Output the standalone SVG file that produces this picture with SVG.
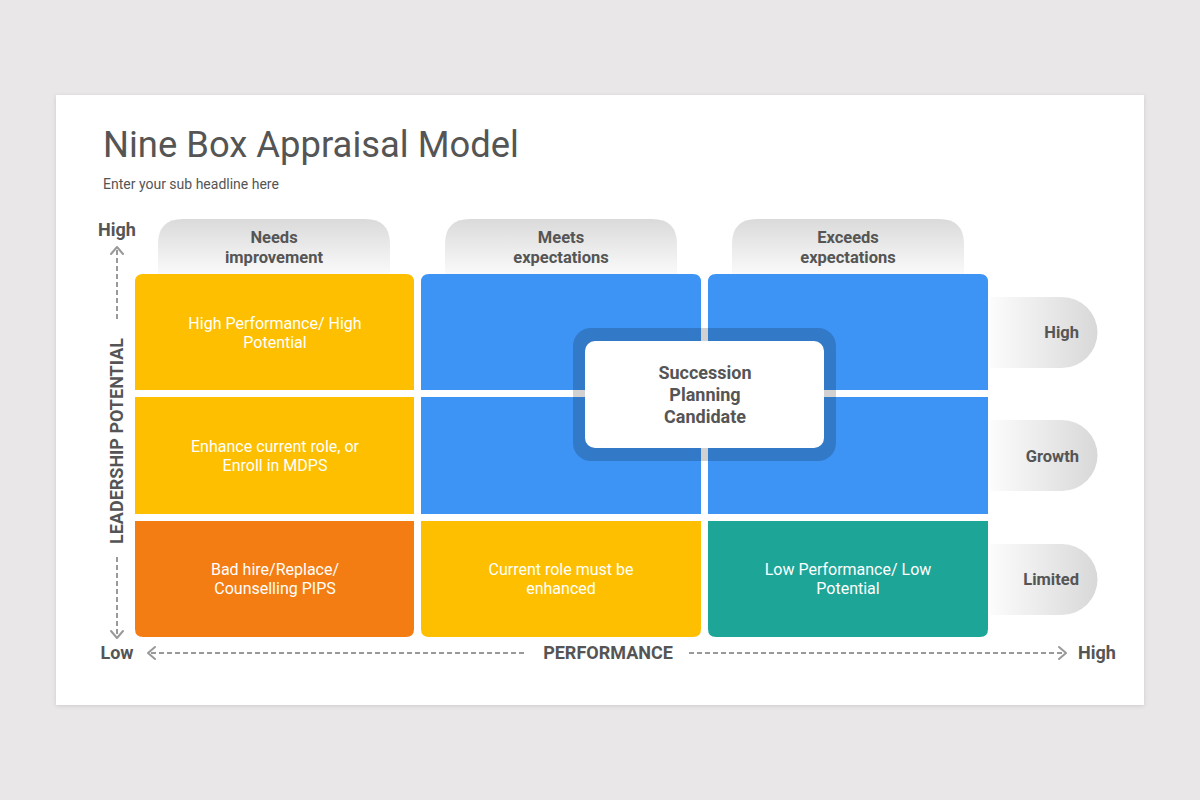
<svg xmlns="http://www.w3.org/2000/svg" width="1200" height="800" viewBox="0 0 1200 800">
<style>
.t{font-family:Roboto,"Liberation Sans",sans-serif;}
.tab{font-family:Roboto,"Liberation Sans",sans-serif;font-weight:bold;font-size:16.5px;fill:#555;}
.cell{font-family:Roboto,"Liberation Sans",sans-serif;font-size:16px;fill:#fff;text-anchor:middle;}
.ax{font-family:Roboto,"Liberation Sans",sans-serif;font-weight:bold;font-size:18px;fill:#555;text-anchor:middle;}
.dash{stroke:#999;stroke-width:2;stroke-dasharray:5 3;fill:none;}
.head{stroke:#999;stroke-width:2;fill:none;stroke-linecap:round;stroke-linejoin:round;}
</style>
<defs>
<linearGradient id="gTop" x1="0" y1="0" x2="0" y2="1"><stop offset="0" stop-color="#dadada"/><stop offset="1" stop-color="#fafafa"/></linearGradient>
<linearGradient id="gRight" x1="0" y1="0" x2="1" y2="0"><stop offset="0" stop-color="#fcfcfc"/><stop offset="1" stop-color="#d8d8d8"/></linearGradient>
<filter id="sh" x="-5%" y="-5%" width="110%" height="110%"><feDropShadow dx="0" dy="1" stdDeviation="2" flood-color="#000" flood-opacity="0.12"/></filter>
</defs>
<rect width="1200" height="800" fill="#e9e7e8"/>
<rect x="56" y="95" width="1088" height="610" fill="#fff" filter="url(#sh)"/>
<text class="t" x="103" y="157" font-size="36.4" fill="#555">Nine Box Appraisal Model</text>
<text class="t" x="103" y="189" font-size="14" fill="#555">Enter your sub headline here</text>

<g id="col-headers">
<g id="hdr-needs"><path d="M158,274 V244 Q158,219 183,219 H365 Q390,219 390,244 V274 Z" fill="url(#gTop)"/><text class="tab" x="274" y="243" text-anchor="middle">Needs</text><text class="tab" x="274" y="263" text-anchor="middle">improvement</text></g>
<g id="hdr-meets"><path d="M445,274 V244 Q445,219 470,219 H652 Q677,219 677,244 V274 Z" fill="url(#gTop)"/><text class="tab" x="561" y="243" text-anchor="middle">Meets</text><text class="tab" x="561" y="263" text-anchor="middle">expectations</text></g>
<g id="hdr-exceeds"><path d="M732,274 V244 Q732,219 757,219 H939 Q964,219 964,244 V274 Z" fill="url(#gTop)"/><text class="tab" x="848" y="243" text-anchor="middle">Exceeds</text><text class="tab" x="848" y="263" text-anchor="middle">expectations</text></g>
</g>

<g id="row-labels">
<g id="lbl-high"><path d="M990,297 H1062 A35.5,35.5 0 0 1 1062,368 H990 Z" fill="url(#gRight)"/><text class="tab" x="1079" y="338" text-anchor="end">High</text></g>
<g id="lbl-growth"><path d="M990,420 H1062 A35.5,35.5 0 0 1 1062,491 H990 Z" fill="url(#gRight)"/><text class="tab" x="1079" y="462" text-anchor="end">Growth</text></g>
<g id="lbl-limited"><path d="M990,544 H1062 A35.5,35.5 0 0 1 1062,615 H990 Z" fill="url(#gRight)"/><text class="tab" x="1079" y="585" text-anchor="end">Limited</text></g>
</g>

<g id="cells">
<g id="c11"><path d="M135,390 V282 Q135,274 143,274 H406 Q414,274 414,282 V390 Z" fill="#FEBF00"/><text class="cell" x="275" y="329">High Performance/ High</text><text class="cell" x="275" y="348">Potential</text></g>
<g id="c12"><path d="M421,390 V282 Q421,274 429,274 H693 Q701,274 701,282 V390 Z" fill="#3D94F5"/></g>
<g id="c13"><path d="M708,390 V282 Q708,274 716,274 H980 Q988,274 988,282 V390 Z" fill="#3D94F5"/></g>
<g id="c21"><rect x="135" y="397" width="279" height="117" fill="#FEBF00"/><text class="cell" x="275" y="452">Enhance current role, or</text><text class="cell" x="275" y="471">Enroll in MDPS</text></g>
<g id="c22"><rect x="421" y="397" width="280" height="117" fill="#3D94F5"/></g>
<g id="c23"><rect x="708" y="397" width="280" height="117" fill="#3D94F5"/></g>
<g id="c31"><path d="M135,521 H414 V629 Q414,637 406,637 H143 Q135,637 135,629 Z" fill="#F47D13"/><text class="cell" x="275" y="575">Bad hire/Replace/</text><text class="cell" x="275" y="594">Counselling PIPS</text></g>
<g id="c32"><path d="M421,521 H701 V629 Q701,637 693,637 H429 Q421,637 421,629 Z" fill="#FEBF00"/><text class="cell" x="561" y="575">Current role must be</text><text class="cell" x="561" y="594">enhanced</text></g>
<g id="c33"><path d="M708,521 H988 V629 Q988,637 980,637 H716 Q708,637 708,629 Z" fill="#1DA598"/><text class="cell" x="848" y="575">Low Performance/ Low</text><text class="cell" x="848" y="594">Potential</text></g>
</g>

<g id="succession">
<rect x="573" y="328" width="263" height="133" rx="18" fill="#000" fill-opacity="0.18"/>
<rect x="585" y="341" width="239" height="107" rx="10" fill="#fff"/>
<text class="ax" x="705" y="379" font-size="19">Succession</text>
<text class="ax" x="705" y="401" font-size="19">Planning</text>
<text class="ax" x="705" y="423" font-size="19">Candidate</text>
</g>

<g id="axes">
<text class="ax" x="117" y="236">High</text>
<text class="ax" x="117" y="659">Low</text>
<text class="ax" x="1097" y="659">High</text>
<text class="ax" x="608" y="659">PERFORMANCE</text>
<text class="ax" transform="translate(123,441) rotate(-90)" x="0" y="0" font-size="18.5">LEADERSHIP POTENTIAL</text>
</g>

<g id="connectors">
<line class="dash" x1="117" y1="250" x2="117" y2="322"/>
<polyline class="head" points="111,254 117,247 123,254"/>
<line class="dash" x1="117" y1="557" x2="117" y2="635"/>
<polyline class="head" points="111,631 117,638 123,631"/>
<line class="dash" x1="151" y1="653" x2="527" y2="653"/>
<polyline class="head" points="155,647 148,653 155,659"/>
<line class="dash" x1="689" y1="653" x2="1063" y2="653"/>
<polyline class="head" points="1059,647 1066,653 1059,659"/>
</g>
</svg>
